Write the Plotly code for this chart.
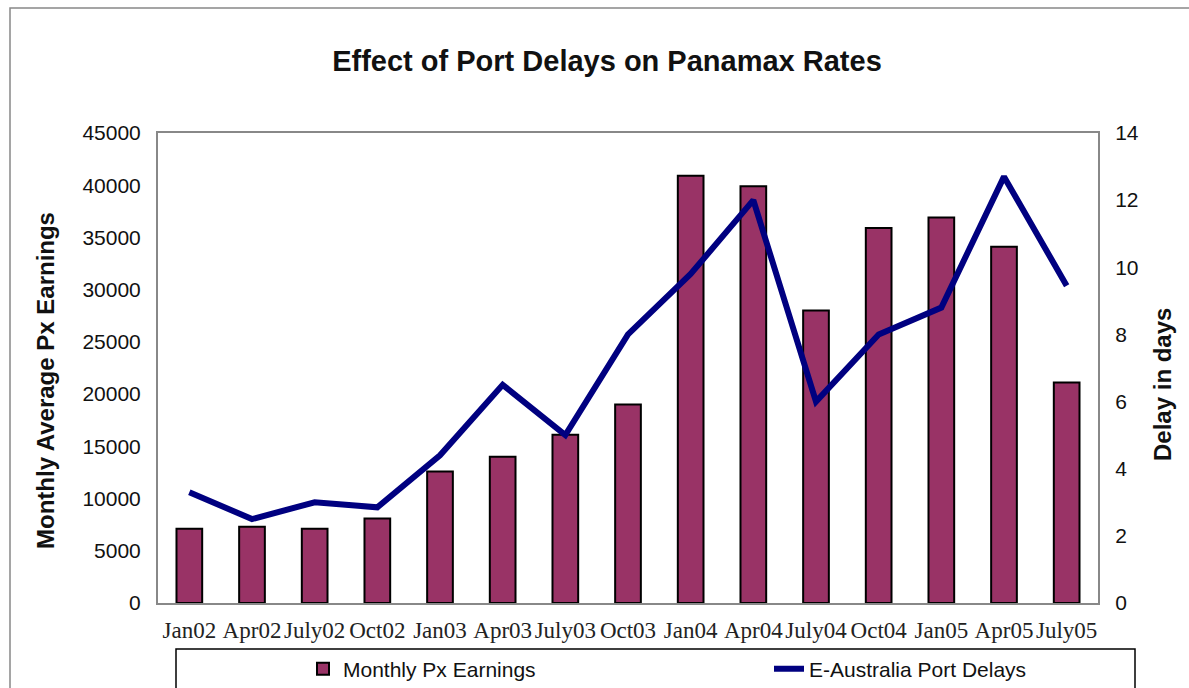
import plotly.graph_objects as go

periods = ["Jan02", "Apr02", "July02", "Oct02", "Jan03", "Apr03", "July03", "Oct03",
           "Jan04", "Apr04", "July04", "Oct04", "Jan05", "Apr05", "July05"]
px_earnings = [7100, 7300, 7100, 8100, 12600, 14000, 16100, 19000,
               40900, 39900, 28000, 35900, 36900, 34100, 21100]
port_delays = [3.3, 2.5, 3.0, 2.85, 4.4, 6.5, 5.0, 8.0,
               9.8, 12.0, 6.0, 8.0, 8.8, 12.7, 9.45]
left_ticks = [0, 5000, 10000, 15000, 20000, 25000, 30000, 35000, 40000, 45000]
left_tick_text = ["0", "5000", "10000", "15000", "20000", "25000", "30000", "35000", "40000", "45000"]
right_ticks = [0, 2, 4, 6, 8, 10, 12, 14]
right_tick_text = ["0", "2", "4", "6", "8", "10", "12", "14"]

W, H = 1189, 688
L, R, T, B = 158, 1098, 133, 603
pw, ph = R - L, B - T

def px_x(x):
    return (x - L) / pw

def px_y(y):
    return (B - y) / ph

fig = go.Figure()
fig.add_trace(go.Bar(
    x=periods, y=px_earnings, name="Monthly Px Earnings",
    marker=dict(color="#993366", line=dict(color="#000000", width=2)),
    width=0.41, yaxis="y", legend="legend",
))
fig.add_trace(go.Scatter(
    x=periods, y=port_delays, name="E-Australia Port Delays",
    mode="lines", line=dict(color="#000080", width=6), yaxis="y2", legend="legend2",
))

axis_font = dict(family="Liberation Sans, Arial, sans-serif", size=21, color="#111111")
title_font = dict(family="Liberation Sans, Arial, sans-serif", size=24, color="#111111")
legend_font = dict(family="Liberation Sans, Arial, sans-serif", size=21, color="#111111")

fig.update_layout(
    width=W, height=H,
    margin=dict(l=L, r=W - R, t=T, b=H - B, pad=0, autoexpand=False),
    paper_bgcolor="white", plot_bgcolor="white",
    title=dict(text="<b>Effect of Port Delays on Panamax Rates</b>",
               x=607 / W, xanchor="center", y=1 - 61 / H, yanchor="middle",
               yref="container",
               font=dict(family="Liberation Sans, Arial, sans-serif", size=29, color="#111111")),
    showlegend=True,
    legend=dict(orientation="h", x=px_x(303), xanchor="left", y=px_y(669), yanchor="middle",
                font=legend_font, bgcolor="rgba(0,0,0,0)", borderwidth=0),
    legend2=dict(orientation="h", x=px_x(769), xanchor="left", y=px_y(669), yanchor="middle",
                 font=legend_font, bgcolor="rgba(0,0,0,0)", borderwidth=0),
    xaxis=dict(type="category", tickmode="array", tickvals=periods, ticktext=periods,
               tickangle=0, showgrid=False, zeroline=False,
               showline=True, linecolor="#888888", linewidth=2, mirror=True,
               ticks="", ticklabelstandoff=5,
               tickfont=dict(family="Liberation Serif, Times New Roman, serif", size=23, color="#222222")),
    yaxis=dict(range=[0, 45000], tickmode="array", tickvals=left_ticks, ticktext=left_tick_text,
               showgrid=False, zeroline=False, showline=True, linecolor="#888888",
               linewidth=2, ticks="", ticklabelstandoff=11, tickfont=axis_font),
    yaxis2=dict(range=[0, 14], tickmode="array", tickvals=right_ticks, ticktext=right_tick_text,
                overlaying="y", side="right", showgrid=False, zeroline=False, showline=True,
                linecolor="#888888", linewidth=2, ticks="", ticklabelstandoff=11,
                tickfont=axis_font),
    annotations=[
        dict(text="<b>Monthly Average Px Earnings</b>", textangle=-90, showarrow=False,
             xref="paper", yref="paper", x=px_x(45), y=px_y(381),
             xanchor="center", yanchor="middle", font=title_font),
        dict(text="<b>Delay in days</b>", textangle=-90, showarrow=False,
             xref="paper", yref="paper", x=px_x(1162), y=px_y(385),
             xanchor="center", yanchor="middle", font=title_font),
    ],
    shapes=[
        # outer chart frame (left and top edges visible)
        dict(type="rect", xref="paper", yref="paper",
             x0=px_x(10), x1=px_x(1200), y0=px_y(700), y1=px_y(8),
             line=dict(color="#888888", width=1.5), fillcolor="rgba(0,0,0,0)", layer="below"),
        # legend box
        dict(type="rect", xref="paper", yref="paper",
             x0=px_x(176), x1=px_x(1135), y0=px_y(700), y1=px_y(649),
             line=dict(color="#000000", width=1.5), fillcolor="rgba(0,0,0,0)", layer="below"),
    ],
)

fig.write_html("out.html")
